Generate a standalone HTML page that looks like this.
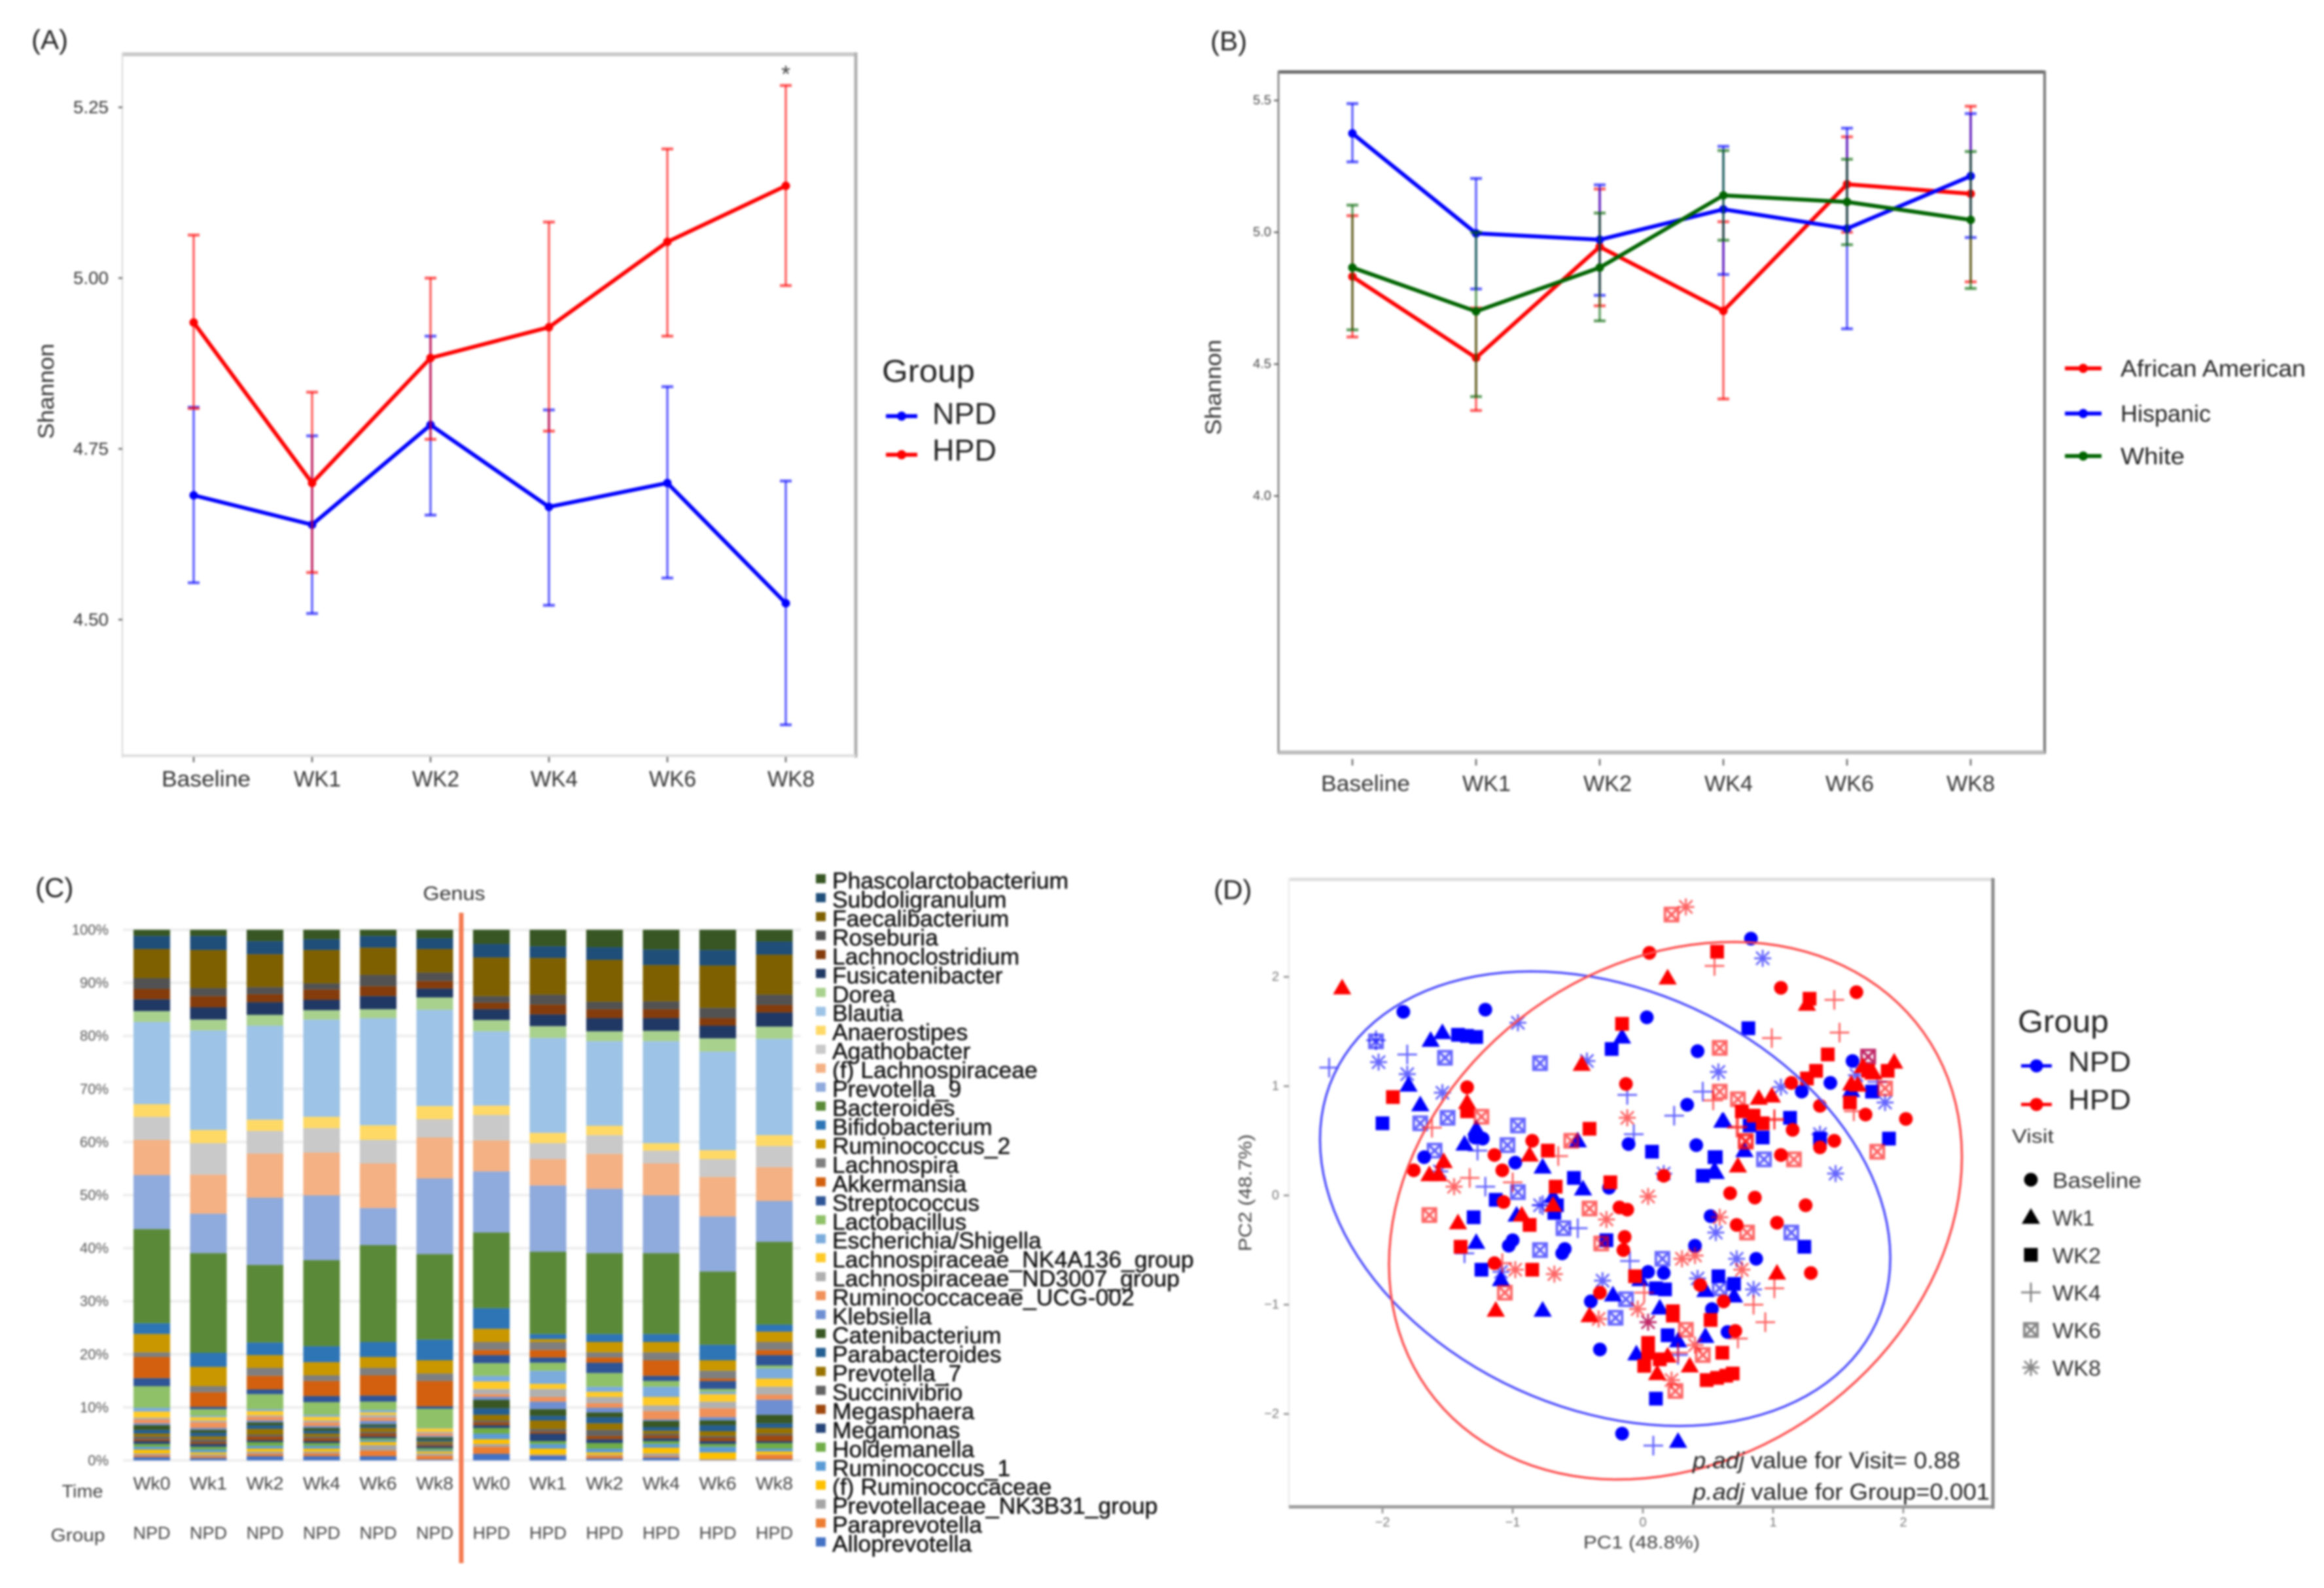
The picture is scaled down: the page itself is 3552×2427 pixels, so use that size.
<!DOCTYPE html>
<html lang="en">
<head>
<meta charset="utf-8">
<title>Shannon diversity, genus composition and PCA by visit and group</title>
<style>
html,body{margin:0;padding:0;background:#fff;width:3552px;height:2427px;overflow:hidden}
svg{display:block;filter:blur(1.7px)}
text{font-family:"Liberation Sans",sans-serif}
</style>
</head>
<body>
<svg id="fig" xmlns="http://www.w3.org/2000/svg" width="3552" height="2427" viewBox="0 0 3552 2427">
<rect width="3552" height="2427" fill="#fff"/>
<text x="48" y="75" font-size="42" fill="#222">(A)</text>
<text x="1850" y="77" font-size="42" fill="#222">(B)</text>
<text x="54" y="1371" font-size="42" fill="#222">(C)</text>
<text x="1855" y="1374" font-size="42" fill="#222">(D)</text>
<g id="panelA"></g>
<g id="panelB"></g>
<g id="panelC"></g>
<g id="panelD"></g>
</svg>
<script>
/* ---------- Panel A data ---------- */
const timepoints = ['Baseline','WK1','WK2','WK4','WK6','WK8'];
const ticksA = [4.5,4.75,5,5.25];
const tickLabelsA = ['4.50','4.75','5.00','5.25'];
const npdMean  = [4.682,4.639,4.785,4.665,4.700,4.524];
const npdUpper = [4.811,4.769,4.915,4.807,4.841,4.703];
const npdLower = [4.554,4.509,4.653,4.521,4.561,4.346];
const hpdMean  = [4.935,4.700,4.883,4.928,5.053,5.135];
const hpdUpper = [5.063,4.833,5.000,5.082,5.189,5.282];
const hpdLower = [4.809,4.569,4.764,4.776,4.915,4.989];

/* ---------- Panel B data ---------- */
const ticksB = [4,4.5,5,5.5];
const tickLabelsB = ['4.0','4.5','5.0','5.5'];
const aaMean  = [4.832,4.524,4.945,4.702,5.182,5.146];
const aaUpper = [5.063,4.713,5.164,5.040,5.362,5.478];
const aaLower = [4.603,4.324,4.721,4.368,5.000,4.812];
const hisMean  = [5.375,4.996,4.972,5.087,5.014,5.213];
const hisUpper = [5.488,5.204,5.180,5.326,5.395,5.450];
const hisLower = [5.267,4.785,4.761,4.840,4.634,4.980];
const whiMean  = [4.866,4.700,4.866,5.140,5.115,5.047];
const whiUpper = [5.103,5.000,5.073,5.310,5.277,5.306];
const whiLower = [4.630,4.377,4.664,4.970,4.953,4.787];

/* ---------- Panel C data (abundance, normalised to 100%) ---------- */
const genera = ['Phascolarctobacterium','Subdoligranulum','Faecalibacterium','Roseburia','Lachnoclostridium','Fusicatenibacter','Dorea','Blautia','Anaerostipes','Agathobacter','(f) Lachnospiraceae','Prevotella_9','Bacteroides','Bifidobacterium','Ruminococcus_2','Lachnospira','Akkermansia','Streptococcus','Lactobacillus','Escherichia/Shigella','Lachnospiraceae_NK4A136_group','Lachnospiraceae_ND3007_group','Ruminococcaceae_UCG-002','Klebsiella','Catenibacterium','Parabacteroides','Prevotella_7','Succinivibrio','Megasphaera','Megamonas','Holdemanella','Ruminococcus_1','(f) Ruminococcaceae','Prevotellaceae_NK3B31_group','Paraprevotella','Alloprevotella'];
const genusColors = ['#375623','#1f4e79','#7f6000','#525252','#843c0c','#203864','#a9d18e','#9dc3e6','#ffd966','#c9c9c9','#f4b183','#8faadc','#5a8a38','#2e75b6','#c99700','#7f7f7f','#d2600f','#2f5597','#8fc168','#7cacdc','#ffca28','#b0b0b0','#f0915a','#6e8fd2','#385723','#255e91','#997300','#636363','#9e480e','#264478','#70ad47','#5b9bd5','#ffc000','#a5a5a5','#ed7d31','#4472c4'];
const barTimes  = ['Wk0','Wk1','Wk2','Wk4','Wk6','Wk8','Wk0','Wk1','Wk2','Wk4','Wk6','Wk8'];
const barGroups = ['NPD','NPD','NPD','NPD','NPD','NPD','HPD','HPD','HPD','HPD','HPD','HPD'];
const percentTicks = [0,10,20,30,40,50,60,70,80,90,100];
const barNpdWk0 = [13,28,62,23,22,25,23,175,27,49,75,115,200,23,39,10,45,17,46,8,13,4,8,4,10,8,6,6,4,6,6,6,8,4,4,7];
const barNpdWk1 = [13,30,81,17,24,26,23,212,28,67,83,84,212,30,41,13,31,5,14,3,7,4,12,4,6,8,6,6,4,6,6,6,4,4,4,5];
const barNpdWk2 = [24,28,70,15,17,27,23,200,24,48,94,143,165,27,27,17,29,10,32,4,9,3,8,4,6,8,12,4,8,4,8,6,6,5,5,9];
const barNpdWk4 = [20,23,71,13,22,22,20,207,24,52,91,138,183,34,28,12,32,13,27,4,8,4,8,4,6,6,6,4,6,4,6,6,6,4,6,9];
const barNpdWk6 = [13,25,58,24,21,28,19,228,31,50,95,79,206,32,23,16,43,13,18,5,5,6,7,7,4,4,8,4,6,4,4,4,6,12,12,9];
const barNpdWk8 = [18,23,50,18,16,19,26,205,28,39,87,161,182,44,28,16,54,5,41,1,7,4,5,3,5,4,4,3,3,4,4,3,4,5,8,2];
const barHpdWk0 = [30,29,82,14,14,23,24,158,20,54,66,130,161,44,28,17,11,17,27,12,16,11,6,6,18,14,12,4,6,6,12,12,10,6,15,14];
const barHpdWk1 = [35,25,78,21,21,25,25,202,22,34,56,141,175,11,6,17,16,11,17,28,11,17,10,16,14,10,18,6,4,16,6,10,12,2,1,10];
const barHpdWk2 = [37,27,89,16,19,28,21,180,20,40,74,137,172,17,22,11,11,22,29,11,11,13,10,10,10,13,14,13,7,8,12,8,5,2,6,4];
const barHpdWk4 = [42,33,77,17,19,27,22,217,16,27,68,123,172,17,22,17,33,11,12,22,18,12,18,3,13,8,6,4,6,6,6,8,12,6,3,6];
const barHpdWk6 = [43,33,90,22,16,27,28,210,19,38,84,117,156,33,22,17,5,17,6,5,16,14,19,7,10,13,10,4,7,6,6,12,14,1,1,1];
const barHpdWk8 = [25,28,85,22,16,30,26,205,23,45,72,87,176,15,22,17,11,22,6,22,17,17,11,32,18,10,12,4,12,4,12,6,6,1,10,2];
const allBars = [barNpdWk0,barNpdWk1,barNpdWk2,barNpdWk4,barNpdWk6,barNpdWk8,barHpdWk0,barHpdWk1,barHpdWk2,barHpdWk4,barHpdWk6,barHpdWk8];

/* ---------- Panel D data (PC1, PC2) ---------- */
const pcTicks = [-2,-1,0,1,2];
const pcTickLabels = ['\u22122','\u22121','0','1','2'];
const npdBaseline = [[-1.84,1.68],[-1.21,1.70],[.03,1.63],[.42,1.32],[.83,2.35],[.34,.83],[1.22,.95],[1.44,1.03],[1.61,1.23],[-.11,.47],[.41,.46],[-1.68,.35],[-1.23,.52],[-1.29,.53],[-.98,.30],[-.26,.07],[.52,-.19],[.40,-.46],[.87,-.58],[-1.0,-.41],[-1.03,-.46],[-.60,-.49],[-.62,-.53],[.04,-.70],[-.40,-.97],[-.33,-1.41],[-.16,-2.18],[.53,-1.04],[.65,-1.25],[.16,-.71]];
const npdWk1 = [[-1.54,1.49],[-1.63,1.42],[-.16,1.45],[-1.80,1.01],[-1.71,.83],[-1.28,.61],[-1.37,.47],[-.50,.50],[-.77,.26],[-.46,.06],[.62,.68],[.78,.41],[.56,.21],[-.97,-.18],[-1.28,-.43],[-1.09,-.77],[-.77,-1.05],[-.02,-.77],[-.23,-.91],[.13,-1.03],[.27,-1.33],[.48,-1.29],[-.05,-1.45],[.27,-2.25],[.48,-.87],[.70,-.92],[-.69,-.01],[.61,.68],[.78,.41],[.55,.23],[1.60,.96]];
const npdWk2 = [[.81,1.53],[-1.42,1.47],[-1.28,1.45],[-1.35,1.46],[-.24,1.34],[-2.0,.66],[.07,.40],[.56,.35],[.46,.18],[.82,.64],[.92,.53],[1.13,.71],[1.36,.52],[-.53,.16],[-1.13,-.04],[-.66,-.09],[-.68,-.16],[-1.30,-.20],[-1.24,-.68],[-.28,-.41],[1.24,-.47],[.58,-.74],[.70,-.81],[.10,-.85],[.17,-.86],[.19,-1.28],[.10,-1.86],[1.76,.95],[1.89,.52],[.55,.35]];
const npdWk4 = [[-2.41,1.17],[-1.81,1.29],[-2.05,1.42],[-.12,.92],[.46,.95],[.24,.73],[-.07,.56],[-1.27,.41],[-1.21,.08],[-.77,-.09],[-1.37,-.53],[-.10,-.60],[.08,-2.29],[-.50,-.30],[.27,-1.46],[1.80,1.04]];
const npdWk6 = [[-2.05,1.41],[-1.52,1.26],[-.79,1.21],[-1.50,.71],[-1.71,.66],[-1.60,.41],[-.96,.64],[-1.04,.46],[-.96,.03],[-.61,-.30],[-.79,-.50],[.93,.33],[1.14,-.34],[.15,-.58],[-.21,-1.12],[-.13,-.95],[.59,-.85],[1.73,1.27]];
const npdWk8 = [[-.96,1.58],[-2.03,1.22],[-1.81,1.11],[-1.54,.94],[-.43,1.23],[.58,1.13],[1.06,.99],[.16,.20],[1.48,.20],[.56,-.34],[.72,-.58],[.85,-.86],[.42,-.76],[-.31,-.78],[-1.09,-.70],[-.79,-.09],[.04,-1.16],[-1.56,.22],[.92,2.17],[1.86,.85],[1.36,.56],[1.64,1.10]];
const hpdBaseline = [[.05,2.22],[-1.35,.99],[-.13,1.02],[-.85,.50],[-1.14,.37],[-1.08,.23],[-1.76,.23],[.16,.18],[-1.07,-.06],[.67,.02],[.86,-.02],[1.25,-.09],[-.18,-.11],[-.12,-.13],[-.14,-.38],[-.15,-.50],[.72,-.27],[1.03,-.25],[1.29,-.71],[-1.14,-.62],[.44,-.82],[-.33,-.89],[.62,-.97],[.71,-1.24],[1.06,1.90],[1.64,1.86],[1.14,1.03],[1.36,.82],[1.71,.74],[2.02,.70],[1.15,.60],[1.47,.50],[1.36,.44],[1.06,.37]];
const hpdWk1 = [[-2.31,1.90],[.19,1.99],[-.47,1.20],[-1.35,.85],[-1.53,.31],[-1.64,.19],[-1.57,.19],[-.87,.37],[-.69,-.09],[-.93,-.18],[-1.42,-.25],[-1.13,-1.05],[-.41,-1.10],[.19,-1.47],[.11,-1.63],[.36,-1.56],[1.03,-.71],[.73,.27],[1.26,1.75],[.89,.89],[.99,.91],[1.60,1.02],[1.77,1.12],[1.93,1.22],[1.69,1.18],[1.65,1.01]];
const hpdWk2 = [[.57,2.23],[-.16,1.57],[-1.92,.90],[-1.35,.77],[-.41,.61],[-.73,.41],[-.67,.08],[-.25,.12],[-.87,-.27],[-1.40,-.47],[-.85,-.68],[-.06,-.74],[.23,-1.06],[.23,-1.10],[.52,-1.14],[.61,-1.44],[.04,-1.35],[.04,-1.44],[.01,-1.56],[.13,-1.50],[.49,-1.69],[.57,-1.67],[.69,-1.63],[.64,-1.65],[1.28,1.80],[1.42,1.29],[1.33,1.14],[1.26,1.07],[1.59,.85],[1.88,1.14],[1.73,1.14],[.76,.77],[.85,.73],[.92,.66]];
const hpdWk4 = [[.55,2.10],[-1.33,.16],[-1.00,.12],[-.65,.36],[.54,.87],[-1.62,.62],[.73,.63],[1.01,.69],[.85,-1.00],[.94,-1.16],[.01,-.89],[1.01,-.85],[-1.08,-.62],[.73,-1.31],[.27,-1.44],[1.47,1.79],[1.51,1.49],[.99,1.44],[1.01,.70],[.72,.62],[1.62,.77]];
const hpdWk6 = [[.22,2.57],[.59,1.35],[.59,.95],[-1.24,.72],[-.55,.50],[.79,.50],[1.16,.33],[-1.64,-.18],[-.41,-.12],[.80,-.34],[-1.06,-.89],[-.32,-.44],[.33,-1.23],[.46,-1.46],[.25,-1.79],[.73,.88],[.79,.49],[1.80,.40],[1.86,.98],[1.73,1.27]];
const hpdWk8 = [[.33,2.64],[-.12,.71],[-1.45,.08],[-.28,-.22],[.04,-.01],[-.68,-.72],[-.98,-.68],[.30,-.58],[.40,-.55],[.76,-.68],[-.04,-1.04],[-.34,-1.13],[.04,-1.16],[.59,-.20],[.40,-1.37],[.22,-1.69]];
/* centre x, centre y, half-width, half-height, correlation */
const npdEllipse = [-.29,-.03,2.19,2.08,-.26];
const hpdEllipse = [.25,-.14,2.20,2.46,.20];
const visitNames = ['Baseline','Wk1','WK2','WK4','WK6','WK8'];
const groupNames = ['NPD','HPD'];
const raceNames = ['African American','Hispanic','White'];

/* ---------- helpers ---------- */
const NS = 'http://www.w3.org/2000/svg';
function mk(parent, tag, attrs){
  const el = document.createElementNS(NS, tag);
  for (const k in attrs) el.setAttribute(k, attrs[k]);
  parent.appendChild(el);
  return el;
}
function label(parent, str, x, y, size, fill, anchor, len, rot){
  const a = {x:x, y:y, 'font-size':size, fill:fill, 'text-anchor':anchor||'start', 'dominant-baseline':'central'};
  if (len) { a.textLength = len; a.lengthAdjust = 'spacingAndGlyphs'; }
  if (rot) a.transform = 'rotate('+rot+' '+x+' '+y+')';
  const el = mk(parent, 'text', a);
  el.textContent = str;
  return el;
}
function edge(parent, name, x1, y1, x2, y2, color, w){
  const el = mk(parent, 'line', {x1:x1, y1:y1, x2:x2, y2:y2, stroke:color, 'stroke-width':w});
  
  
}
function tickLine(parent, x1, y1, x2, y2, color, w){
  const el = mk(parent, 'line', {x1:x1, y1:y1, x2:x2, y2:y2, stroke:color, 'stroke-width':w});
  
  
}
function drawSeries(parent, name, color, x, y, mean, upper, lower){
  const g = mk(parent, 'g', {});
  
  
  mean.forEach(function(m, i){
    const bar = mk(g, 'line', {x1:x(i), x2:x(i), y1:y(upper[i]), y2:y(lower[i]), stroke:color, 'stroke-width':3.5, opacity:.62});
    
    
    [upper[i], lower[i]].forEach(function(v){
      const cap = mk(g, 'line', {x1:x(i)-9, x2:x(i)+9, y1:y(v), y2:y(v), stroke:color, 'stroke-width':4.5, opacity:.62});
      
      
    });
  });
  const line = mk(g, 'polyline', {points:mean.map(function(m,i){return x(i)+','+y(m);}).join(' '), fill:'none', stroke:color, 'stroke-width':6, 'stroke-linejoin':'round'});
  
  
  mean.forEach(function(m, i){
    const dot = mk(g, 'circle', {cx:x(i), cy:y(m), r:6.5, fill:color});
    
    
  });
}
function legendKey(parent, name, x1, x2, y, color, w, r){
  const ln = mk(parent, 'line', {x1:x1, x2:x2, y1:y, y2:y, stroke:color, 'stroke-width':w});
  
  
  const c = mk(parent, 'circle', {cx:(x1+x2)/2, cy:y, r:r, fill:color});
  
  
}

/* ---------- Panel A ---------- */
(function(){
  const g = document.getElementById('panelA');
  const xA = function(i){ return 296 + i*181; };
  const yA = function(v){ return 425 + (5 - v)*1044; };
  edge(g,'frame-top',187,83,1308,83,'#c8c8c8',6);
  edge(g,'frame-right',1308,80,1308,1158,'#b0b0b0',5);
  edge(g,'frame-left',187,80,187,1158,'#ddd',2.5);
  edge(g,'frame-bottom',187,1155,1308,1155,'#ddd',4);
  ticksA.forEach(function(t, i){
    tickLine(g,181,yA(t),187,yA(t),'#666',2.5);
    const el = label(g, tickLabelsA[i], 139, yA(t), 27, '#333', 'middle', 54);
    
    
  });
  timepoints.forEach(function(t, i){
    tickLine(g,xA(i),1157,xA(i),1165,'#666',2.5);
    const el = label(g, t, xA(i) + (i === 0 ? 19 : 8), 1191, 34, '#333', 'middle', i === 0 ? 136 : 72);
    
    
  });
  drawSeries(g,'npd','#0000ff',xA,yA,npdMean,npdUpper,npdLower);
  drawSeries(g,'hpd','#ff0000',xA,yA,hpdMean,hpdUpper,hpdLower);
  let el = label(g,'*',1201,113,36,'#444','middle');
  
  
  el = label(g,'Shannon',71,598,34,'#333','middle',146,-90);
  
  
  el = label(g,'Group',1348,568,48,'#222','start',142);
  
  
  legendKey(g,'npd',1354,1402,636,'#0000ff',6,7);
  legendKey(g,'hpd',1354,1402,695,'#ff0000',6,7);
  el = label(g,groupNames[0],1425,632,46,'#222','start',98);
  
  
  el = label(g,groupNames[1],1425,688,46,'#222','start',98);
  
  
})();

/* ---------- Panel B ---------- */
(function(){
  const g = document.getElementById('panelB');
  const xB = function(i){ return 2067 + i*189; };
  const yB = function(v){ return 355 + (5 - v)*403; };
  edge(g,'frame-top',1954,110,3125,110,'#666',5);
  edge(g,'frame-right',3125,108,3125,1152,'#777',4);
  edge(g,'frame-left',1954,108,1954,1152,'#888',3);
  edge(g,'frame-bottom',1954,1150,3125,1150,'#bbb',6);
  ticksB.forEach(function(t, i){
    tickLine(g,1947,yB(t),1954,yB(t),'#666',2.5);
    const el = label(g, tickLabelsB[i], 1929, yB(t), 20, '#444', 'middle', 28);
    
    
  });
  timepoints.forEach(function(t, i){
    tickLine(g,xB(i),1160,xB(i),1170,'#666',2.5);
    const el = label(g, t, xB(i) + 20 - i*4, 1198, 34, '#333', 'middle', i === 0 ? 136 : 74);
    
    
  });
  drawSeries(g,'african-american','#ff0000',xB,yB,aaMean,aaUpper,aaLower);
  drawSeries(g,'hispanic','#0000ff',xB,yB,hisMean,hisUpper,hisLower);
  drawSeries(g,'white','#006400',xB,yB,whiMean,whiUpper,whiLower);
  let el = label(g,'Shannon',1855,592,34,'#333','middle',146,-90);
  
  
  legendKey(g,'african-american',3156,3212,563,'#ff0000',6,7);
  legendKey(g,'hispanic',3156,3212,632,'#0000ff',6,7);
  legendKey(g,'white',3156,3212,697,'#006400',6,7);
  el = label(g,raceNames[0],3241,563,36,'#222','start',283);
  
  
  el = label(g,raceNames[1],3241,632,36,'#222','start',138);
  
  
  el = label(g,raceNames[2],3241,697,36,'#222','start',98);
  
  
})();

/* ---------- Panel C ---------- */
(function(){
  const g = document.getElementById('panelC');
  const barW = 56;
  const xC = function(i){ return 204 + i*86.5; };
  const yC = function(p){ return 2232 - p*8.11; };
  percentTicks.forEach(function(t){
    const gl = mk(g,'line',{x1:188,x2:1224,y1:yC(t),y2:yC(t),stroke:'#eeeeee','stroke-width':4});
    
    
    const el = label(g, t + '%', 166, yC(t), 22, '#555', 'end');
    
    
  });
  allBars.forEach(function(values, b){
    const total = values.reduce(function(s,v){return s+v;},0);
    let cum = 0;
    for (let k = values.length - 1; k >= 0; k--) {
      const p0 = cum/total*100;
      cum += values[k];
      const p1 = cum/total*100;
      const seg = mk(g,'rect',{x:xC(b),y:yC(p1),width:barW,height:yC(p0)-yC(p1),fill:genusColors[k]});
      
      
    }
    let el = label(g, barTimes[b], xC(b)+barW/2, 2267, 28, '#444', 'middle', 57);
    
    
    el = label(g, barGroups[b], xC(b)+barW/2, 2343, 27, '#444', 'middle', 57);
    
    
  });
  genera.forEach(function(name, i){
    const yy = 1343 + i*28.96;
    const sw = mk(g,'rect',{x:1247,y:yy-7,width:15,height:14,fill:genusColors[i]});
    
    
    const el = label(g, name, 1272, yy+3, 35.5, '#111', 'start');
    el.setAttribute('stroke', '#111');
    el.setAttribute('stroke-width', '0.5');
    
    
  });
  edge(g,'group-divider',705,1395,705,2389,'#f47a50',7);
  let el = label(g,'Genus',694,1366,30,'#333','middle',95);
  
  
  el = label(g,'Time',126,2279,28,'#444','middle',63);
  
  
  el = label(g,'Group',119,2346,28,'#444','middle',83);
  
  
})();

/* ---------- Panel D ---------- */
(function(){
  const g = document.getElementById('panelD');
  const xD = function(v){ return 2511 + v*199; };
  const yD = function(v){ return 1827 - v*167; };
  function marker(parent, visit, px, py, color, light){
    const m = mk(parent,'g',{});
    const lw = 3;
    if (visit === 0) {
      mk(m,'circle',{cx:px,cy:py,r:10.5,fill:color});
    } else if (visit === 1) {
      mk(m,'polygon',{points:px+','+(py-14)+' '+(px+14)+','+(py+10)+' '+(px-14)+','+(py+10),fill:color});
    } else if (visit === 2) {
      mk(m,'rect',{x:px-10.5,y:py-10.5,width:21,height:21,fill:color});
    } else if (visit === 3) {
      mk(m,'path',{d:'M'+(px-15)+' '+py+'H'+(px+15)+'M'+px+' '+(py-15)+'V'+(py+15),stroke:color,'stroke-width':lw,opacity:light,fill:'none'});
    } else if (visit === 4) {
      mk(m,'path',{d:'M'+(px-10)+' '+(py-10)+'h20v20h-20zL'+(px+10)+' '+(py+10)+'M'+(px+10)+' '+(py-10)+'L'+(px-10)+' '+(py+10),stroke:color,'stroke-width':lw+1,opacity:light,fill:'none'});
    } else {
      mk(m,'path',{d:'M'+(px-13)+' '+py+'H'+(px+13)+'M'+px+' '+(py-13)+'V'+(py+13)+'M'+(px-10)+' '+(py-10)+'L'+(px+10)+' '+(py+10)+'M'+(px+10)+' '+(py-10)+'L'+(px-10)+' '+(py+10),stroke:color,'stroke-width':lw,opacity:light,fill:'none'});
    }
    return m;
  }
  edge(g,'frame-top',1970,1344,3046,1344,'#ddd',5);
  edge(g,'frame-left',1970,1342,1970,2305,'#eee',3);
  edge(g,'frame-bottom',1970,2303,3046,2303,'#999',5);
  edge(g,'frame-right',3046,1342,3046,2306,'#888',5);
  pcTicks.forEach(function(t, i){
    tickLine(g,xD(t),2305,xD(t),2313,'#888',2.5);
    tickLine(g,1962,yD(t),1970,yD(t),'#888',2.5);
    let el = label(g, pcTickLabels[i], xD(t), 2327, 20, '#777', 'middle');
    
    
    el = label(g, pcTickLabels[i], 1955, yD(t), 20, '#777', 'end');
    
    
  });
  function ellipsePath(e){
    const theta = Math.acos(e[4]);
    const pts = [];
    for (let a = 0; a < 360; a += 3) {
      const t = a*Math.PI/180;
      pts.push(xD(e[0] + e[2]*Math.cos(t)) + ',' + yD(e[1] + e[3]*Math.cos(t - theta)));
    }
    return 'M' + pts.join('L') + 'Z';
  }
  const npdSets = [npdBaseline,npdWk1,npdWk2,npdWk4,npdWk6,npdWk8];
  const hpdSets = [hpdBaseline,hpdWk1,hpdWk2,hpdWk4,hpdWk6,hpdWk8];
  npdSets.forEach(function(set, v){
    set.forEach(function(p){
      const m = marker(g, v, xD(p[0]), yD(p[1]), '#0000ff', .6);
      
      
    });
  });
  hpdSets.forEach(function(set, v){
    set.forEach(function(p){
      const m = marker(g, v, xD(p[0]), yD(p[1]), '#ff0000', .6);
      
      
    });
  });
  const eb = mk(g,'path',{d:ellipsePath(npdEllipse),fill:'none',stroke:'#4a4aff','stroke-width':3.5});
  
  
  const er = mk(g,'path',{d:ellipsePath(hpdEllipse),fill:'none',stroke:'#ff4a4a','stroke-width':3.5});
  
  
  let el = label(g,'PC1 (48.8%)',2509,2357,28,'#444','middle',178);
  
  
  el = label(g,'PC2 (48.7%)',1903,1823,28,'#444','middle',179,-90);
  
  
  function pValue(name, rest, y, len){
    const t = mk(g,'text',{x:2587,y:y,'font-size':35,fill:'#222','dominant-baseline':'central',textLength:len,lengthAdjust:'spacingAndGlyphs'});
    
    
    const i = mk(t,'tspan',{'font-style':'italic'});
    i.textContent = 'p.adj';
    const r = mk(t,'tspan',{});
    r.textContent = rest;
  }
  pValue('visit-p-value',' value for Visit= 0.88',2232,409);
  pValue('group-p-value',' value for Group=0.001',2280,454);
  el = label(g,'Group',3084,1562,48,'#222','start',139);
  
  
  const keyN = mk(g,'g',{});
  
  
  legendKey(keyN,'npd',3089,3136,1629,'#0000ff',5,10);
  const keyH = mk(g,'g',{});
  
  
  legendKey(keyH,'hpd',3089,3136,1688,'#ff0000',5,10);
  el = label(g,groupNames[0],3161,1623,44,'#222','start',96);
  
  
  el = label(g,groupNames[1],3161,1681,44,'#222','start',96);
  
  
  el = label(g,'Visit',3075,1737,30,'#333','start',64);
  
  
  visitNames.forEach(function(v, i){
    const yy = 1803 + i*57.4;
    const m = marker(g, i, 3104, yy, i < 3 ? '#000' : '#555', .7);
    
    
    const t = label(g, v, 3137, yy+1, 33, '#333', 'start', i === 0 ? 136 : (i === 1 ? 64 : 74));
    
    
  });
})();
</script>
</body>
</html>
